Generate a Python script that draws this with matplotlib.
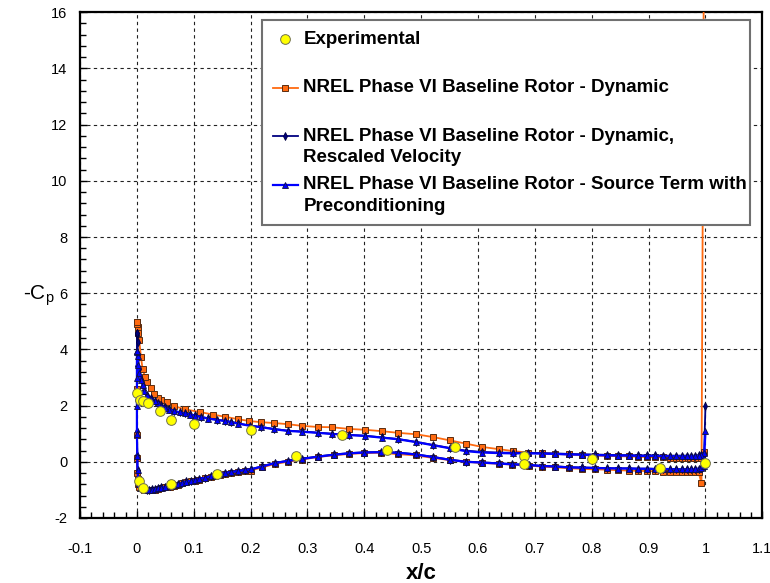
import numpy as np
import matplotlib
matplotlib.use("Agg")
import matplotlib.pyplot as plt
import matplotlib.transforms as mtransforms
from matplotlib.legend_handler import HandlerLine2D
from matplotlib.ticker import MultipleLocator

plt.rcParams['font.family'] = 'Liberation Sans'
plt.rcParams['mathtext.fontset'] = 'custom'
plt.rcParams['mathtext.rm'] = 'Liberation Sans'
plt.rcParams['axes.unicode_minus'] = False

# --- experimental taps ---
exp_x_up = [0.0, 0.005, 0.01, 0.02, 0.04, 0.06, 0.1, 0.2, 0.36, 0.56, 0.68, 0.8, 1.0]
exp_cp_up = [2.45, 2.2, 2.15, 2.1, 1.8, 1.5, 1.35, 1.12, 0.94, 0.51, 0.21, 0.09, -0.06]
exp_x_lo = [0.003, 0.01, 0.06, 0.14, 0.28, 0.44, 0.68, 0.92]
exp_cp_lo = [-0.7, -0.95, -0.8, -0.42, 0.2, 0.41, -0.08, -0.21]

# --- Dynamic (orange) ---
dyn_x_up = [0.0, 0.0005, 0.001, 0.002, 0.004, 0.007, 0.010, 0.0145, 0.018, 0.024,
            0.030, 0.037, 0.043, 0.053, 0.066, 0.084, 0.111, 0.134, 0.155, 0.177,
            0.198, 0.219, 0.241, 0.265, 0.29, 0.318, 0.343, 0.373, 0.401, 0.431,
            0.46, 0.491, 0.521, 0.551, 0.578, 0.607, 0.636, 0.662, 0.688, 0.712,
            0.736, 0.76, 0.783, 0.805, 0.826, 0.846, 0.865, 0.882, 0.898, 0.912,
            0.925, 0.937, 0.948, 0.958, 0.967, 0.975, 0.982, 0.988, 0.993, 0.997]
dyn_cp_up = [4.98, 4.90, 4.80, 4.60, 4.33, 3.74, 3.30, 3.02, 2.85, 2.61,
             2.43, 2.28, 2.20, 2.12, 1.98, 1.87, 1.77, 1.68, 1.60, 1.52,
             1.45, 1.41, 1.38, 1.34, 1.28, 1.24, 1.23, 1.17, 1.14, 1.09,
             1.03, 0.98, 0.88, 0.76, 0.65, 0.53, 0.45, 0.38, 0.33, 0.30,
             0.28, 0.26, 0.24, 0.22, 0.21, 0.20, 0.19, 0.18, 0.17, 0.16,
             0.16, 0.15, 0.15, 0.15, 0.14, 0.14, 0.14, 0.15, 0.18, 0.35]
dyn_x_lo = [0.0, 0.0, 0.0, 0.0, 0.0005, 0.001, 0.002, 0.004, 0.008, 0.013,
            0.018, 0.022, 0.027, 0.031, 0.037, 0.043, 0.05, 0.058, 0.065, 0.072,
            0.08, 0.087, 0.095, 0.102, 0.11, 0.12, 0.13, 0.137, 0.146, 0.155,
            0.166, 0.178, 0.19, 0.2, 0.22, 0.242, 0.265, 0.29, 0.318, 0.346,
            0.373, 0.40, 0.43, 0.46, 0.49, 0.52, 0.55, 0.578, 0.607, 0.636,
            0.66, 0.69, 0.712, 0.736, 0.76, 0.783, 0.805, 0.826, 0.846, 0.865,
            0.882, 0.898, 0.912, 0.925, 0.937, 0.948, 0.958, 0.967, 0.975, 0.982,
            0.988, 0.993, 1.0]
dyn_cp_lo = [4.98, 2.60, 0.95, 0.12, -0.40, -0.62, -0.78, -0.88, -0.95, -1.00,
             -1.02, -1.02, -1.01, -0.99, -0.97, -0.94, -0.91, -0.88, -0.85, -0.81,
             -0.77, -0.73, -0.70, -0.67, -0.63, -0.59, -0.55, -0.51, -0.47, -0.43,
             -0.40, -0.36, -0.33, -0.31, -0.20, -0.08, 0.00, 0.08, 0.17, 0.23,
             0.28, 0.31, 0.32, 0.27, 0.23, 0.14, 0.06, 0.00, -0.04, -0.07,
             -0.10, -0.14, -0.17, -0.20, -0.23, -0.25, -0.27, -0.28, -0.30, -0.31,
             -0.32, -0.33, -0.34, -0.35, -0.36, -0.37, -0.37, -0.38, -0.38, -0.38,
             -0.37, -0.77, 30.0]

# --- Rescaled velocity (navy) and Source term (blue): same surface grid ---
cfd_x_up = [0.0, 0.0003, 0.001, 0.002, 0.004, 0.007, 0.010, 0.013, 0.018, 0.025,
            0.031, 0.037, 0.043, 0.049, 0.057, 0.066, 0.075, 0.084, 0.093, 0.102,
            0.113, 0.125, 0.14, 0.155, 0.166, 0.178, 0.199, 0.219, 0.241, 0.265,
            0.29, 0.318, 0.343, 0.373, 0.401, 0.431, 0.46, 0.491, 0.521, 0.551,
            0.578, 0.607, 0.636, 0.662, 0.688, 0.712, 0.736, 0.76, 0.783, 0.805,
            0.826, 0.846, 0.865, 0.882, 0.898, 0.912, 0.925, 0.937, 0.948, 0.958,
            0.967, 0.975, 0.982, 0.988, 0.993, 0.997]
cfd_x_lo = [0.0, 0.0, 0.0, 0.0, 0.0005, 0.001, 0.002, 0.004, 0.008, 0.013,
            0.018, 0.022, 0.027, 0.031, 0.037, 0.043, 0.05, 0.058, 0.065, 0.072,
            0.08, 0.087, 0.095, 0.102, 0.11, 0.12, 0.13, 0.137, 0.146, 0.155,
            0.166, 0.178, 0.19, 0.2, 0.22, 0.242, 0.265, 0.29, 0.318, 0.346,
            0.373, 0.40, 0.43, 0.46, 0.49, 0.52, 0.55, 0.578, 0.607, 0.636,
            0.66, 0.69, 0.712, 0.736, 0.76, 0.783, 0.805, 0.826, 0.846, 0.865,
            0.882, 0.898, 0.912, 0.925, 0.937, 0.948, 0.958, 0.967, 0.975, 0.982,
            0.988, 0.993, 0.997, 1.0]

resc_cp_up = [4.57, 4.50, 4.27, 3.80, 3.30, 2.95, 2.75, 2.54, 2.38, 2.26,
              2.17, 2.09, 2.01, 1.94, 1.87, 1.81, 1.77, 1.73, 1.69, 1.65,
              1.60, 1.55, 1.50, 1.46, 1.42, 1.37, 1.29, 1.24, 1.17, 1.11,
              1.08, 1.04, 1.00, 0.96, 0.93, 0.87, 0.81, 0.71, 0.60, 0.49,
              0.40, 0.35, 0.33, 0.32, 0.32, 0.31, 0.30, 0.28, 0.27, 0.26,
              0.25, 0.24, 0.24, 0.23, 0.23, 0.23, 0.22, 0.22, 0.22, 0.22,
              0.22, 0.22, 0.22, 0.23, 0.25, 0.32]
resc_cp_lo = [4.57, 3.40, 2.20, 1.10, 0.25, -0.28, -0.58, -0.79, -0.91, -0.97,
              -0.99, -0.99, -0.98, -0.96, -0.94, -0.91, -0.88, -0.85, -0.81, -0.78,
              -0.74, -0.70, -0.67, -0.64, -0.60, -0.56, -0.51, -0.47, -0.43, -0.39,
              -0.36, -0.32, -0.29, -0.26, -0.16, -0.04, 0.04, 0.11, 0.19, 0.26,
              0.31, 0.34, 0.35, 0.33, 0.27, 0.18, 0.08, 0.01, -0.02, -0.05,
              -0.08, -0.11, -0.14, -0.16, -0.19, -0.20, -0.21, -0.22, -0.23, -0.23,
              -0.24, -0.24, -0.25, -0.25, -0.25, -0.26, -0.26, -0.26, -0.26, -0.25,
              -0.24, -0.22, -0.14, 1.97]

src_cp_up = [3.95, 3.92, 3.75, 3.45, 3.15, 2.90, 2.72, 2.52, 2.36, 2.24,
             2.15, 2.08, 2.00, 1.93, 1.86, 1.80, 1.76, 1.72, 1.68, 1.64,
             1.59, 1.54, 1.49, 1.45, 1.41, 1.36, 1.28, 1.23, 1.16, 1.10,
             1.07, 1.03, 0.99, 0.95, 0.92, 0.86, 0.80, 0.70, 0.59, 0.48,
             0.38, 0.33, 0.31, 0.30, 0.30, 0.29, 0.28, 0.26, 0.25, 0.24,
             0.23, 0.22, 0.22, 0.21, 0.21, 0.21, 0.20, 0.20, 0.20, 0.20,
             0.20, 0.20, 0.20, 0.21, 0.23, 0.30]
src_cp_lo = [3.95, 3.00, 2.00, 1.00, 0.20, -0.30, -0.60, -0.80, -0.92, -0.98,
             -1.00, -1.00, -0.99, -0.97, -0.95, -0.92, -0.89, -0.86, -0.82, -0.79,
             -0.75, -0.71, -0.68, -0.65, -0.61, -0.57, -0.52, -0.48, -0.44, -0.40,
             -0.37, -0.33, -0.30, -0.27, -0.17, -0.05, 0.03, 0.10, 0.18, 0.25,
             0.30, 0.33, 0.34, 0.32, 0.26, 0.17, 0.07, 0.00, -0.03, -0.06,
             -0.09, -0.12, -0.15, -0.17, -0.20, -0.21, -0.22, -0.23, -0.24, -0.24,
             -0.25, -0.25, -0.26, -0.26, -0.26, -0.27, -0.27, -0.27, -0.27, -0.26,
             -0.25, -0.23, -0.15, 1.09]

labels = ["Experimental\n",
          "NREL Phase VI Baseline Rotor - Dynamic\n",
          "NREL Phase VI Baseline Rotor - Dynamic,\nRescaled Velocity",
          "NREL Phase VI Baseline Rotor - Source Term with\nPreconditioning"]


def loop(xu, cu, xl, cl):
    # trailing edge -> upper surface -> leading edge -> lower surface -> trailing edge
    return np.r_[xu[::-1], xl], np.r_[cu[::-1], cl]


class FirstLineHandler(HandlerLine2D):
    """Put the legend symbol next to the first line of a two-line label."""

    def __init__(self, shift, **kw):
        super().__init__(**kw)
        self.shift = shift

    def create_artists(self, legend, orig_handle, xdescent, ydescent, width, height,
                       fontsize, trans):
        trans = mtransforms.Affine2D().translate(0, self.shift) + trans
        return super().create_artists(legend, orig_handle, xdescent, ydescent, width,
                                      height, fontsize, trans)


fig = plt.figure(figsize=(7.7, 5.83), dpi=100)
ax = fig.add_axes([0.104, 0.1115, 0.886, 0.8675])

x, c = loop(dyn_x_up, dyn_cp_up, dyn_x_lo, dyn_cp_lo)
l_dyn, = ax.plot(x, c, color='#FF6A10', lw=1.3, marker='s', ms=4.6,
                 mfc='#FF6A10', mec='#5a2c10', mew=0.7, zorder=3)
x, c = loop(cfd_x_up, resc_cp_up, cfd_x_lo, resc_cp_lo)
l_resc, = ax.plot(x, c, color='#000080', lw=1.3, marker='d', ms=4.2,
                  mfc='#000080', mec='#000040', mew=0.6, zorder=4)
x, c = loop(cfd_x_up, src_cp_up, cfd_x_lo, src_cp_lo)
l_src, = ax.plot(x, c, color='#0000FF', lw=1.6, marker='^', ms=5,
                 mfc='#0000FF', mec='#101040', mew=0.6, zorder=5)
l_exp, = ax.plot(np.r_[exp_x_up, exp_x_lo], np.r_[exp_cp_up, exp_cp_lo], ls='none',
                 marker='o', ms=7, mfc='#FFFF00', mec='#707050', mew=0.7, zorder=6)

ax.set_xlim(-0.1, 1.1)
ax.set_ylim(-2, 16)
ax.xaxis.set_minor_locator(MultipleLocator(0.02))
ax.yaxis.set_major_locator(MultipleLocator(2))
ax.yaxis.set_minor_locator(MultipleLocator(0.4))
ax.set_xticks(np.arange(-0.1, 1.101, 0.1))
ax.set_xticklabels(['-0.1', '0', '0.1', '0.2', '0.3', '0.4', '0.5', '0.6', '0.7',
                    '0.8', '0.9', '1', '1.1'])
ax.tick_params(which='both', direction='in', top=False, right=False, width=1,
               labelsize=10.5, colors='black')
ax.tick_params(which='major', length=5)
ax.tick_params(which='minor', length=4)
ax.tick_params(axis='x', pad=17)
ax.tick_params(axis='y', pad=9)
ax.grid(True, which='major', color='#222222', ls=(0, (3, 3)), lw=0.8)
for s in ax.spines.values():
    s.set_linewidth(1.6)

ax.set_xlabel('x/c', fontsize=16, fontweight='bold', labelpad=5)
ax.set_ylabel('-C$_\\mathregular{p}$', fontsize=15, rotation=0, va='center')
ax.yaxis.set_label_coords(-0.06, 0.44)

hmap = {h: FirstLineHandler(7.6) for h in (l_exp, l_dyn, l_resc, l_src)}
leg = ax.legend([l_exp, l_dyn, l_resc, l_src], labels, handler_map=hmap,
                loc='upper left', bbox_to_anchor=(0.267, 0.573, 0.715, 0.411),
                mode='expand', borderaxespad=0, prop={'weight': 'bold', 'size': 13.5},
                handlelength=1.35, handletextpad=0.3, labelspacing=0.55,
                borderpad=0.55, fancybox=False, framealpha=1, edgecolor='#707070',
                numpoints=1)
for t in leg.get_texts():
    t.set_linespacing(1.33)
leg.get_frame().set_linewidth(1.5)
leg.set_zorder(10)

fig.savefig('out.png', dpi=100)
